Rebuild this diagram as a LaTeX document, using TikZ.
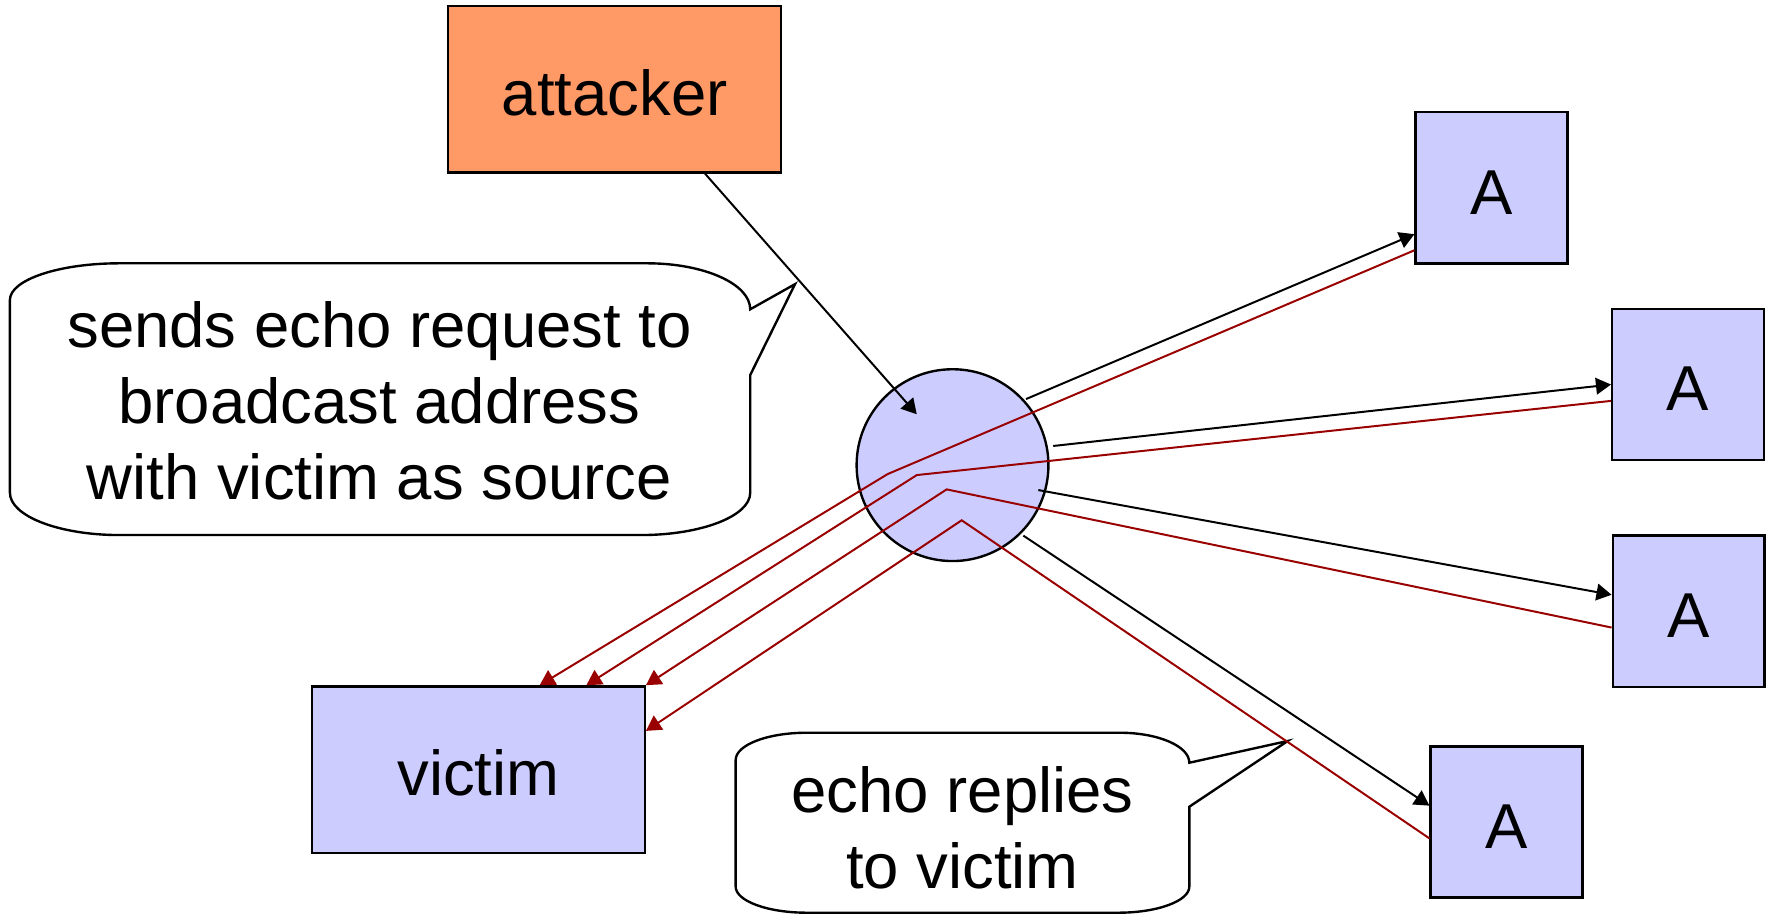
\documentclass[tikz,border=0pt]{standalone}
\usepackage{fontspec}
\setmainfont{Liberation Sans}
\usetikzlibrary{arrows.meta}
\definecolor{boxblue}{HTML}{CCCCFF}
\definecolor{attackorange}{HTML}{FF9966}
\definecolor{replyred}{HTML}{990000}
\tikzset{every node/.style={font=\fontsize{16}{19.2}\selectfont},
 box/.style={draw=black,line width=0.6pt,fill=boxblue,inner sep=0pt,text height=13.3pt},
 hostbox/.style={box,minimum width=1.345cm,minimum height=1.34cm},
 bigbox/.style={box,minimum width=2.95cm,minimum height=1.475cm},
 request/.style={draw=black,line width=0.5pt,-{Triangle[length=3.8pt,width=4.2pt]}},
 reply/.style={draw=replyred,line width=0.5pt,-{Triangle[length=3.8pt,width=4.2pt]}},
 callout/.style={draw=black,line width=0.6pt,fill=white},
 }

\begin{document}
\begin{tikzpicture}[x=0.01cm,y=-0.01cm]
        \useasboundingbox (0,0) rectangle (1567,810.6);
        % speech bubbles
        \draw[callout] (8.8,266) .. controls (8.8,248.1) and (52.4,233.5) .. (106,233.5)
            -- (574,233.5) .. controls (624.4,233.5) and (665.3,251.8) .. (665.3,274.3)
            -- (705,252) -- (665.3,332.6) -- (665.3,437)
            .. controls (665.3,457.7) and (621.9,474.5) .. (568.3,474.5)
            -- (106,474.5) .. controls (52.4,474.5) and (8.8,457.7) .. (8.8,437) -- cycle;
        \draw[callout] (652.4,674) .. controls (652.4,660.6) and (680.6,649.8) .. (715.4,649.8)
            -- (993,649.8) .. controls (1027.1,649.8) and (1054.7,661.7) .. (1054.7,676.4)
            -- (1142,657.1) -- (1054.7,715.4) -- (1054.7,786.3)
            .. controls (1054.7,799) and (1026.5,809.4) .. (991.7,809.4)
            -- (715.4,809.4) .. controls (680.6,809.4) and (652.4,799) .. (652.4,786.3) -- cycle;
        \node[align=center] (reqnote) at (336.5,355.6) {sends echo request to\\broadcast address\\with victim as source};
        \node[align=center] (replynote) at (853.6,734.5) {echo replies\\to victim};
        % hosts
        \node[bigbox,fill=attackorange] (attacker) at (545,79.2) {attacker};
        \node[bigbox] (victim) at (424.2,682.5) {victim};
        \node[box,circle,minimum size=1.7cm] (hub) at (844.7,412.5) {};
        \node[hostbox] (A1) at (1322.7,166.6) {A};
        \node[hostbox] (A2) at (1497,341) {A};
        \node[hostbox] (A3) at (1497.5,542) {A};
        \node[hostbox] (A4) at (1336,729) {A};
        % points inside the broadcast net
        \coordinate (hit) at (813,367.4);
        \coordinate (q1) at (909.9,353.9);
        \coordinate (q2) at (934,395.5);
        \coordinate (q3) at (920.8,434.6);
        \coordinate (q4) at (907.5,475);
        \coordinate (k1) at (787.2,420.4);
        \coordinate (k2) at (813,421.3);
        \coordinate (k3) at (839.5,434);
        \coordinate (k4) at (852.8,461.4);
        % requests and replies
        \draw[request] (attacker.-43) -- (hit);
        \draw[request] (q1) -- (A1.211);
        \draw[request] (q2) -- (A2.west);
        \draw[request] (q3) -- (A3.168);
        \draw[request] (q4) -- (A4.168);
        \draw[reply] (A1.219) -- (k1) -- (victim.54);
        \draw[reply] (A2.192) -- (k2) -- (victim.38);
        \draw[reply] (A3.192) -- (k3) -- (victim.north east);
        \draw[reply] (A4.192) -- (k4) -- (victim.13);
    \end{tikzpicture}
\end{document}
